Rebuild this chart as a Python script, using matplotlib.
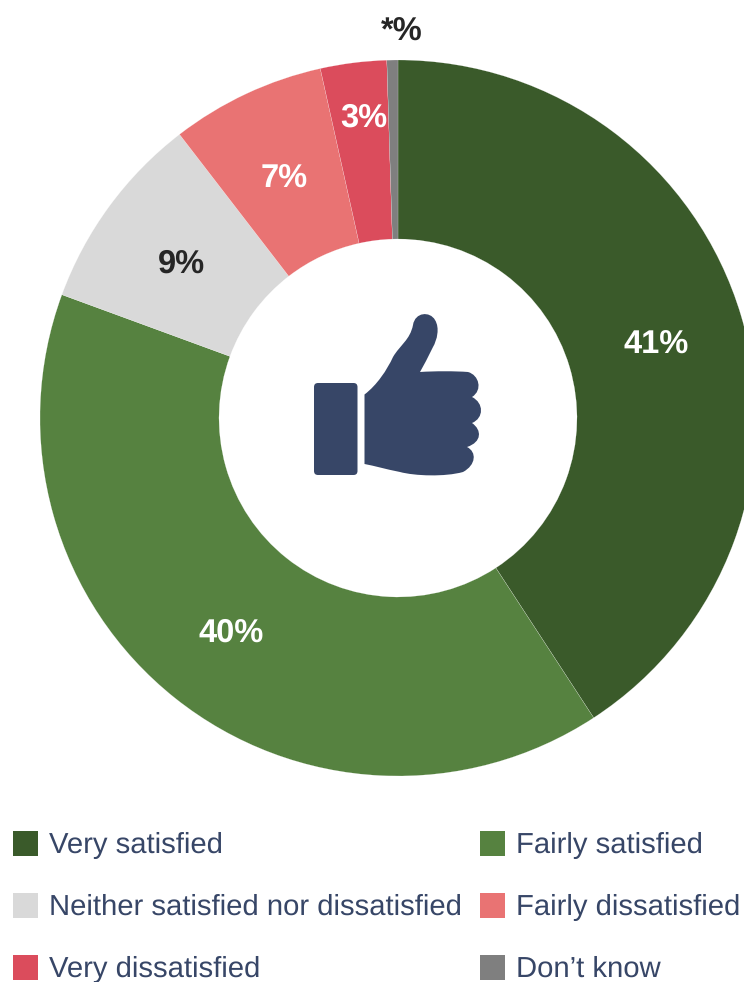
import matplotlib.pyplot as plt
from matplotlib.patches import FancyBboxPatch, PathPatch, Rectangle
from matplotlib.path import Path

plt.rcParams["font.family"] = ["Liberation Sans", "DejaVu Sans"]
plt.rcParams["text.hinting"] = "none"
plt.rcParams["text.kerning_factor"] = 0

categories = [
    "Very satisfied",
    "Fairly satisfied",
    "Neither satisfied nor dissatisfied",
    "Fairly dissatisfied",
    "Very dissatisfied",
    "Don\u2019t know",
]
values = [41, 40, 9, 7, 3, 0.5]
value_labels = ["41%", "40%", "9%", "7%", "3%", "*%"]
colores = ["#3A5A2A", "#568240", "#D9D9D9", "#E97373", "#DB4C5C", "#7F7F7F"]
colores_texto = ["white", "white", "#262626", "white", "white", "#262626"]

NAVY = "#374667"
W, H = 744, 982


def y_px(y):
    # la imagen cuenta y desde arriba
    return H - y


fig = plt.figure(figsize=(W / 100, H / 100), dpi=100)
ax = fig.add_axes([0, 0, 1, 1])

ax.pie(
    values,
    colors=colores,
    startangle=90,
    counterclock=False,
    radius=358,
    center=(398, y_px(418)),
    wedgeprops={"width": 179, "linewidth": 0.12, "edgecolor": "white"},
)
ax.set_xlim(0, W)
ax.set_ylim(0, H)
ax.set_aspect("equal")
ax.axis("off")

# Etiquetas del donut
label_pos = [(656, 342), (231, 630), (181, 261), (284, 176), (364, 115), (402, 29)]
for txt, col, (x, y) in zip(value_labels, colores_texto, label_pos):
    ax.text(x, y_px(y), txt, color=col, fontsize=23.5, fontweight="bold",
            ha="center", va="center_baseline")

# Icono del pulgar
ax.add_patch(FancyBboxPatch((317, y_px(472)), 37.5, 86,
                            boxstyle="round,pad=3,rounding_size=4",
                            fc=NAVY, ec="none"))
mano = [
    (364.5, 394.5),
    (377, 385), (387, 370), (393, 357),
    (400, 345), (410, 340), (413, 325),
    (415, 312), (430, 311), (435, 320),
    (440, 328), (437, 340), (433, 347),
    (428, 357), (424, 365), (420, 372),
    (435, 371), (455, 371), (468, 372),
    (479, 375), (483, 390), (472, 397),
    (484, 403), (484, 418), (472, 423),
    (482, 430), (482, 442), (467, 447),
    (477, 452), (476, 465), (463, 472),
    (445, 477), (415, 476), (400, 472),
    (385, 469), (375, 466), (364.5, 464),
    (364.5, 394.5),
]
codes = [Path.MOVETO] + [Path.CURVE4] * (len(mano) - 2) + [Path.CLOSEPOLY]
ax.add_patch(PathPatch(Path([(x, y_px(y)) for x, y in mano], codes),
                       fc=NAVY, ec="none"))

# Leyenda
leg_x = [13, 480]
leg_y = [843, 905, 967]
for i, (cat, col) in enumerate(zip(categories, colores)):
    x = leg_x[i % 2]
    y = leg_y[i // 2]
    ax.add_patch(Rectangle((x, y_px(y + 12.5)), 25, 25, fc=col, ec="none"))
    ax.text(x + 36, y_px(y - 0.5), cat, color=NAVY, fontsize=21.05, ha="left",
            va="center_baseline")

fig.savefig("out.png", dpi=100)
